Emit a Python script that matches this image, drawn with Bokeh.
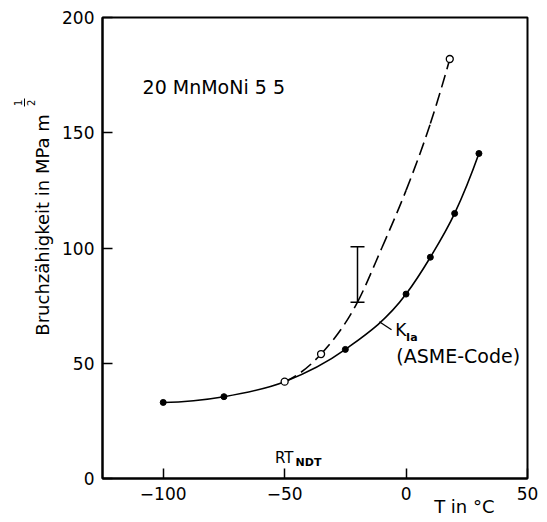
from bokeh.plotting import figure
from bokeh.models import ColumnDataSource, Label, Whisker, TeeHead, FixedTicker, LinearAxis
from bokeh.embed import file_html
from bokeh.resources import INLINE

# --- data -------------------------------------------------------------------
# K_Ia (ASME-Code) reference values, filled dots
kia_T = [-100, -75, -25, 0, 10, 20, 30]
kia_K = [33, 35.5, 56, 80, 96, 115, 141]
# measured fracture toughness, open circles
meas_T = [-50, -35, 18]
meas_K = [42, 54, 182]
# scatter band (vertical bar)
band_T = [-20]
band_lo = [76.5]
band_hi = [100.5]
solid_T = [-100, -75, -50, -25, 0, 10, 20, 30]
solid_K = [33, 35.5, 42, 56, 80, 96, 115, 141]
dash_T = [-50, -35, -20, -10, 0, 10, 18]
dash_K = [42, 54, 76.5, 100, 125, 154, 182]
# axes
x_ticks = [-100, -50, 0, 50]
y_ticks = [0, 50, 100, 150, 200]

FONT = "DejaVu Sans"

p = figure(width=547, height=522, x_range=(-125, 50), y_range=(0, 200),
           output_backend="svg", toolbar_location=None, title=None,
           min_border_left=102, min_border_right=20, min_border_top=17,
           min_border_bottom=44, background_fill_color="white",
           border_fill_color="white")

p.grid.visible = False
p.outline_line_color = "black"
p.outline_line_width = 2
p.outline_line_alpha = 1.0

for ax in (p.xaxis[0], p.yaxis[0]):
    ax.axis_line_width = 2
    ax.axis_line_color = "black"
    ax.major_tick_in = 10
    ax.major_tick_out = 0
    ax.major_tick_line_width = 1.5
    ax.major_tick_line_color = "black"
    ax.minor_tick_line_color = None
    ax.major_label_text_font = FONT
    ax.major_label_text_font_size = "17px"
    ax.major_label_text_color = "black"

p.xaxis.ticker = FixedTicker(ticks=x_ticks)
p.yaxis.ticker = FixedTicker(ticks=y_ticks)
p.xaxis.major_label_standoff = 8
p.yaxis.major_label_standoff = 8


def text_axis(side, tick, label, size, standoff, orientation="horizontal",
              line=False, bounds=None):
    """An extra axis that only carries one text at a data position."""
    ax = LinearAxis(ticker=FixedTicker(ticks=[tick]),
                    major_label_overrides={tick: label},
                    major_label_standoff=standoff,
                    major_label_orientation=orientation,
                    major_label_text_font=FONT, major_label_text_font_size=size,
                    major_label_text_color="black",
                    major_tick_in=0, major_tick_out=0, major_tick_line_color=None,
                    minor_tick_in=0, minor_tick_out=0, minor_tick_line_color=None,
                    axis_line_color="black" if line else None, axis_line_width=1)
    if bounds is not None:
        ax.bounds = bounds
    p.add_layout(ax, side)


# y-axis title with the exponent 1/2 (fraction bar = the short axis line)
text_axis("left", 110, "Bruchzähigkeit in MPa m", "18px", 6, "vertical")
text_axis("left", 163, "2", "10px", -6, "vertical")
text_axis("left", 163, "1", "10px", 2, "vertical", line=True, bounds=(161.2, 164.8))
# x-axis title
text_axis("below", 24, "T in °C", "18px", -7, "horizontal")


def smooth_bezier(xs, ys):
    """Cubic Bezier segments passing through the given points (drawing only)."""
    n = len(xs)
    h = [xs[i + 1] - xs[i] for i in range(n - 1)]
    d = [(ys[i + 1] - ys[i]) / h[i] for i in range(n - 1)]
    m = [0.0] * n
    for i in range(1, n - 1):
        m[i] = (d[i - 1] * h[i] + d[i] * h[i - 1]) / (h[i - 1] + h[i])
    m[0] = ((2 * h[0] + h[1]) * d[0] - h[0] * d[1]) / (h[0] + h[1])
    m[-1] = ((2 * h[-1] + h[-2]) * d[-1] - h[-1] * d[-2]) / (h[-1] + h[-2])
    src = dict(x0=[], y0=[], x1=[], y1=[], cx0=[], cy0=[], cx1=[], cy1=[])
    for i in range(n - 1):
        src["x0"].append(xs[i]); src["y0"].append(ys[i])
        src["x1"].append(xs[i + 1]); src["y1"].append(ys[i + 1])
        src["cx0"].append(xs[i] + h[i] / 3); src["cy0"].append(ys[i] + m[i] * h[i] / 3)
        src["cx1"].append(xs[i + 1] - h[i] / 3); src["cy1"].append(ys[i + 1] - m[i + 1] * h[i] / 3)
    return ColumnDataSource(src)


p.bezier(x0="x0", y0="y0", x1="x1", y1="y1", cx0="cx0", cy0="cy0", cx1="cx1", cy1="cy1",
         source=smooth_bezier(solid_T, solid_K), line_color="black", line_width=1.6)
p.bezier(x0="x0", y0="y0", x1="x1", y1="y1", cx0="cx0", cy0="cy0", cx1="cx1", cy1="cy1",
         source=smooth_bezier(dash_T, dash_K), line_color="black", line_width=1.6,
         line_dash="13 6")

# scatter band
band = ColumnDataSource(dict(T=band_T, lo=band_lo, hi=band_hi))
p.add_layout(Whisker(source=band, base="T", lower="lo", upper="hi",
                     dimension="height", line_color="black", line_width=1.5,
                     upper_head=TeeHead(size=14, line_width=1.5, line_color="black"),
                     lower_head=TeeHead(size=14, line_width=1.5, line_color="black")))

# markers
p.scatter(kia_T, kia_K, marker="circle", size=6, fill_color="black", line_color="black")
p.scatter(meas_T, meas_K, marker="circle", size=7, fill_color="white",
          line_color="black", line_width=1.3)

# leader line for the K_Ia label
p.segment(x0=[-11], y0=[68], x1=[-6], y1=[64.5], line_color="black", line_width=1.3)


def lab(x, y, text, size, align="left", baseline="middle", style="normal"):
    p.add_layout(Label(x=x, y=y, text=text, text_font=FONT, text_font_size=size,
                       text_align=align, text_baseline=baseline,
                       text_font_style=style, text_color="black"))


lab(-108.5, 170, "20 MnMoNi 5 5", "19px")
lab(-4.5, 64.5, "K", "17px")
lab(0, 61.3, "Ia", "11px", style="bold")
lab(-4.0, 53.3, "(ASME-Code)", "19px")
lab(-54, 9, "RT", "15px")
lab(-45.5, 6.8, "NDT", "11px", style="bold")

open("out.html", "w").write(file_html(p, INLINE))
